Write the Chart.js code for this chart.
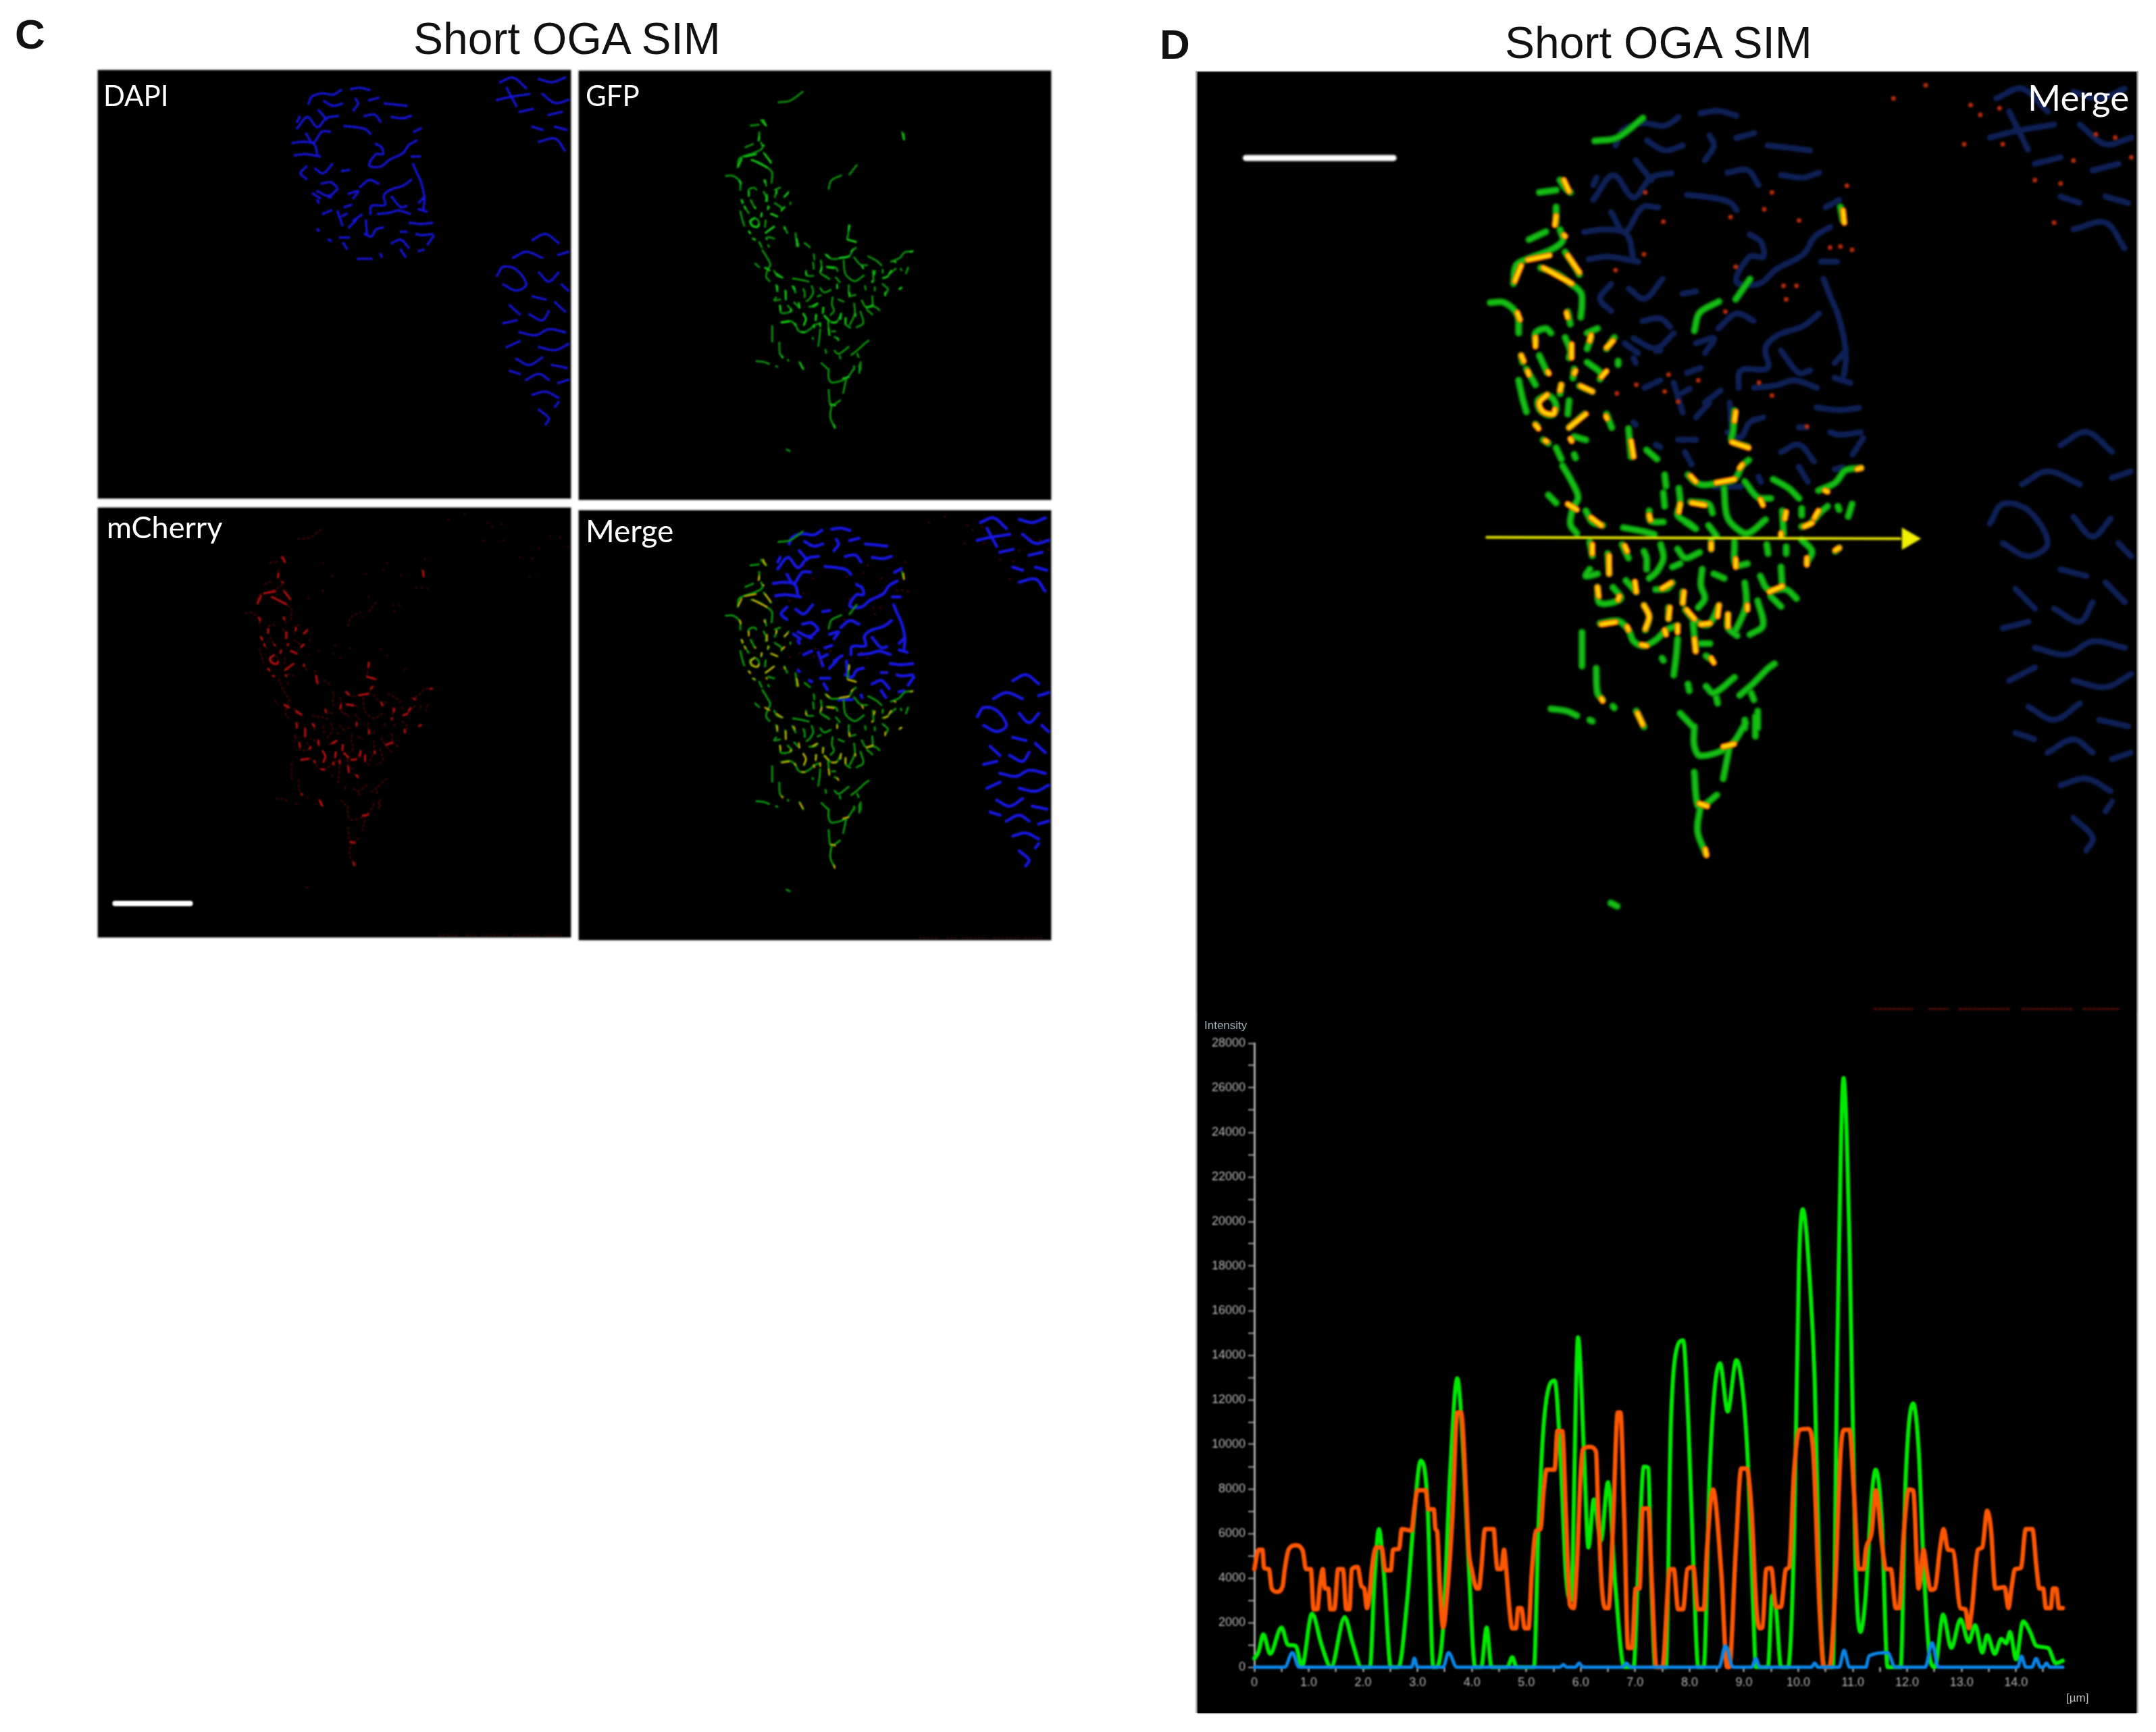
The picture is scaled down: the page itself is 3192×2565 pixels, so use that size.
<!DOCTYPE html>
<html><head><meta charset="utf-8">
<script src="https://cdn.jsdelivr.net/npm/chart.js@4"></script>
<style>
html,body{margin:0;padding:0;background:#fff;width:3192px;height:2565px;overflow:hidden}
canvas{position:absolute;background:#000;filter:blur(1px);box-shadow:0 0 2px 1px #999}
.t{position:absolute;white-space:nowrap;line-height:1;font-family:"Liberation Sans",Arial,sans-serif;color:#111}
.l{position:absolute;white-space:nowrap;line-height:1;font-family:Lato,"Open Sans",sans-serif;color:#fff;filter:blur(.6px);z-index:3}
</style></head><body>
<div style="position:absolute;left:1770px;top:105px;width:1396px;height:2432px;background:#b0b0b0"></div>
<div style="position:absolute;left:1773px;top:107px;width:1390px;height:2430px;background:#000"></div>
<div class="t" style="left:22px;top:20px;font-size:62px;font-weight:bold">C</div>
<div class="t" style="left:1717px;top:35px;font-size:62px;font-weight:bold">D</div>
<div class="t" style="left:612px;top:24px;font-size:66px">Short OGA SIM</div>
<div class="t" style="left:2228px;top:30px;font-size:66px">Short OGA SIM</div>
<div class="l" style="left:153px;top:120px;font-size:42px">DAPI</div>
<div class="l" style="left:867px;top:120px;font-size:42px">GFP</div>
<div class="l" style="left:158px;top:758px;font-size:45px">mCherry</div>
<div class="l" style="left:867px;top:763px;font-size:46px">Merge</div>
<div class="l" style="left:3002px;top:117px;font-size:53px">Merge</div>
<div class="t" style="left:1783px;top:1510px;font-size:17px;color:#9fb0b8;z-index:3;filter:blur(.6px)">Intensity</div>
<div class="t" style="left:3059px;top:2506px;font-size:17px;color:#bbb;z-index:3;filter:blur(.6px)">[µm]</div>
<script>
// ---------- intensity profile (panel D, lower part) ----------
const yTickStep = 1000, yTickMax = 28000, xTickStep = 0.5, xTickLast = 14.5;
const greenX = [0,0.08,0.165,0.29,0.5,0.62,0.76,0.875,1.06,1.24,1.41,1.66,1.81,1.97,2.125,2.21,2.29,2.38,2.51,2.65,2.81,2.92,3.06,3.18,3.29,3.35,3.47,3.6,3.73,3.86,3.94,4.06,4.17,4.27,4.36,4.65,4.74,4.82,5.14,5.22,5.33,5.52,5.62,5.73,5.82,5.95,6.06,6.14,6.24,6.37,6.5,6.63,6.8,6.97,7.06,7.16,7.24,7.3,7.37,7.565,7.655,7.74,7.88,7.98,8.07,8.16,8.26,8.37,8.46,8.56,8.7,8.86,9.0,9.08,9.17,9.22,9.44,9.52,9.59,9.68,9.81,9.92,10.01,10.08,10.22,10.3,10.39,10.48,10.63,10.72,10.83,10.94,11.05,11.14,11.23,11.35,11.42,11.53,11.64,11.88,11.97,12.11,12.21,12.3,12.42,12.51,12.66,12.81,12.98,13.13,13.25,13.38,13.47,13.61,13.73,13.82,13.89,14.0,14.13,14.26,14.37,14.59,14.73,14.86];
const greenY = [390,700,1480,600,1780,1000,960,40,2400,960,0,2240,1050,0,0,4000,6200,4250,0,0,3000,6300,9270,7500,0,0,1780,8750,12960,8750,4650,0,0,1780,0,0,450,0,0,6100,11200,12860,9800,4040,3000,14800,9580,5370,7530,5680,8300,3840,0,0,4650,9000,8960,3630,0,0,10800,14000,14670,10800,4650,0,0,8760,12450,13640,11470,13780,11840,8760,2600,0,0,3220,2600,0,0,5680,18000,20550,16960,12860,3630,0,0,14900,26440,19000,4650,1580,3000,7730,8860,6700,0,0,8350,11840,9780,4650,350,0,2360,860,2150,1130,1890,650,1440,600,1270,1070,1580,350,2050,1580,960,860,180,290];
const orangeX = [0,0.08,0.15,0.18,0.27,0.32,0.42,0.52,0.56,0.63,0.76,0.89,0.95,1.04,1.09,1.16,1.2,1.26,1.3,1.36,1.4,1.47,1.54,1.63,1.69,1.75,1.79,1.9,1.97,2.02,2.07,2.13,2.16,2.24,2.34,2.41,2.51,2.55,2.66,2.71,2.89,2.94,3.0,3.15,3.2,3.3,3.33,3.36,3.41,3.47,3.55,3.64,3.73,3.8,3.89,3.94,4.0,4.09,4.13,4.17,4.24,4.4,4.43,4.47,4.54,4.59,4.63,4.69,4.74,4.81,4.85,4.91,4.97,5.04,5.1,5.18,5.26,5.32,5.37,5.52,5.57,5.66,5.73,5.8,5.87,5.93,6.0,6.04,6.16,6.28,6.32,6.39,6.45,6.51,6.59,6.68,6.73,6.8,6.87,6.94,7.01,7.08,7.14,7.24,7.31,7.39,7.5,7.64,7.71,7.79,7.88,7.96,8.07,8.15,8.26,8.32,8.43,8.58,8.69,8.73,8.85,8.95,9.05,9.14,9.23,9.29,9.34,9.41,9.5,9.59,9.68,9.77,9.83,9.92,10.02,10.18,10.27,10.39,10.47,10.57,10.66,10.78,10.84,10.94,11.02,11.11,11.2,11.24,11.35,11.42,11.55,11.61,11.7,11.79,11.85,11.94,12.03,12.11,12.21,12.3,12.36,12.43,12.51,12.6,12.67,12.75,12.84,12.98,13.07,13.13,13.19,13.3,13.38,13.47,13.54,13.62,13.79,13.86,13.92,13.98,14.09,14.18,14.3,14.38,14.43,14.5,14.55,14.64,14.68,14.74,14.79,14.86];
const orangeY = [4400,5270,5270,4450,4400,3530,3380,3630,4400,5270,5470,5230,4400,4400,2600,2600,3530,4400,3530,3530,2600,2600,4400,4400,2600,2600,4400,4500,3630,3530,2650,3530,4400,5370,5370,4350,4350,5270,5310,6200,6130,7080,7940,7940,7080,7080,6200,6100,3630,1780,3430,6700,11430,11430,7940,5270,4350,3530,3530,4350,6200,6200,5310,4400,4400,5270,4400,2600,1740,1740,2650,2650,1740,1740,4250,6130,6200,7940,8860,8860,10600,10600,6700,2800,2650,4650,8760,9780,9890,9680,7120,3530,2650,2650,6200,11430,11430,6700,860,860,3530,3530,7120,7120,3630,0,0,4400,4400,2600,2600,4400,4490,2600,2600,5270,7980,4350,0,0,5270,8920,8920,7020,2600,1740,1780,4400,4450,2700,2700,4400,4490,8760,10650,10700,9780,2600,0,0,2600,9780,10650,10650,7940,4400,4400,5270,6100,7940,5270,4400,4400,2650,2650,6100,7980,7940,3530,5270,4350,3470,3530,5270,6200,5270,5230,2650,2600,1740,2600,5270,5370,7020,6200,3530,3590,2650,3590,4400,4450,6200,6200,4400,3530,3530,2650,2650,3530,3530,2650,2650];
const blueX = [0,0.56,0.7,0.82,2.89,2.94,3.0,3.47,3.57,3.72,5.62,5.68,5.74,5.9,5.97,6.04,6.77,6.84,6.91,8.54,8.66,8.8,9.14,9.22,9.29,10.24,10.3,10.36,10.75,10.84,10.94,11.24,11.3,11.64,11.78,12.33,12.46,12.57,14.03,14.1,14.18,14.29,14.37,14.45,14.5,14.56,14.62,14.86];
const blueY = [0,0,650,0,0,400,0,0,650,0,0,120,0,0,180,0,0,180,0,0,960,0,0,390,0,0,180,0,0,760,0,0,510,650,0,0,1100,0,0,490,0,0,390,0,0,180,0,0];

// ---------- microscopy marks ----------
const farFilaments = [[695,215,730,210,770,180],[850,1110,850,1140,860,1155,905,1140,930,1105],[945,1095,945,1125],[905,1140,895,1190],[850,1180,855,1230,865,1230,885,1215],[860,1230,855,1270,868,1305],[720,1380,730,1385]];
const farHot = [[895,1141,912,1137],[858,1228,870,1232],[867,1298,869,1307]];
const lowerFilaments = [[375,30,410,100,435,170,415,220,405,290,430,330],[320,160,350,195],[465,230,490,280,530,295],[610,305,680,320,730,335],[770,70,775,120],[765,150,770,210],[825,130,830,200,820,250,870,290,890,310],[860,70,885,100,920,115,980,105,1040,90,1070,30,1095,5],[870,190,940,200,955,240],[1000,130,1010,250,1040,300,1090,330,1160,270],[1080,100,1130,170,1180,175],[1190,90,1250,130,1290,175],[1365,140,1430,105,1470,50,1530,40],[1225,230,1230,330],[1300,300,1330,290,1370,240,1400,210],[1300,220,1300,250],[1495,200,1480,255],[1440,210,1445,225],[940,295,970,340],[710,230,715,275,765,280],[850,280,890,310],[480,370,490,430],[605,380,630,440],[550,420,555,510],[690,410,700,440,700,490],[755,380,765,440,740,500,710,530],[820,400,850,440,905,415],[800,480,830,465],[950,360,950,400],[1040,370,1045,470,1090,465],[1165,380,1170,420],[1240,390,1240,420],[1300,360,1340,410,1320,460],[1430,410,1445,395],[480,490,465,520,510,510],[510,570,520,640,600,620,570,570],[620,540,660,590],[735,580,780,575,800,550],[915,490,910,560,925,620,900,660],[960,510,1000,530],[1080,550,1085,600,1085,650,1070,700,1045,760],[1140,520,1170,580,1240,580,1280,620],[1220,480,1225,570],[1180,610,1220,655],[1130,630,1150,740,1100,780],[840,590,840,640],[690,650,710,700,695,760],[785,660,785,710],[850,670,890,720,940,735,980,650],[1015,690,1015,750,1050,785],[520,730,590,720,630,760,650,810,690,830,740,800,775,760,820,740],[880,730,890,850],[910,820,945,820],[930,875,950,890],[820,800,815,870,805,960],[450,770,450,850,450,920],[505,930,510,1040,530,1070],[570,1098,575,1106],[330,1110,390,1120,430,1140],[480,1160,490,1165],[660,1120,690,1190],[760,885,765,895],[860,1000,865,1030],[930,1010,960,1040,1040,970],[970,1060,975,1085],[1060,1050,1110,1000,1170,930,1195,910],[1105,1040,1115,1070],[1080,1160,1080,1195],[1130,1120,1130,1195],[830,1130,880,1190]];
const lowerHot = [[395,200,430,225],[485,260,525,295],[710,250,715,270],[875,195,925,205],[830,200,825,235],[870,75,890,100],[970,105,1040,90],[1060,40,1070,25],[1140,180,1150,205],[1240,235,1235,265],[1365,230,1350,260],[1310,300,1340,285],[1390,140,1400,145],[1515,45,1530,40],[490,380,490,420],[555,430,555,510],[615,385,625,410],[950,375,950,400],[1045,445,1045,480],[1320,440,1320,470],[1430,405,1445,395],[510,570,515,610],[655,545,660,590],[760,575,795,550],[845,590,840,640],[690,650,710,700,695,755],[790,660,785,710],[855,670,885,710],[910,735,945,730],[1015,690,1015,745],[820,740,820,770],[885,800,890,855],[1220,330,1220,340],[770,760,775,780],[680,825,700,830],[625,745,630,760],[525,735,580,725],[950,885,960,905],[665,1130,685,1180],[525,1065,530,1075],[595,610,590,625],[980,650,975,700],[1090,650,1090,670],[1175,590,1225,565]];
const upperFilaments = [[365,110,385,145,405,165],[285,165,350,155],[350,230,350,300],[245,375,310,340],[365,330,375,380,330,420,240,460,195,490,185,570],[385,430,420,490,440,530],[290,500,350,525,400,565,445,610,450,660,445,720],[95,655,150,655,200,710,205,790],[395,695,405,750],[270,830,270,790,310,770,330,790],[385,810,405,870,400,900],[485,810,470,860],[510,770,470,790],[545,860,575,810],[590,915,590,930],[215,890,220,920],[285,890,315,965],[235,950,270,1020],[205,1000,220,1080,235,1140],[420,950,415,990],[470,920,525,970,520,995],[370,1020,365,1060],[440,1025,490,1050],[315,1065,280,1090,290,1135,330,1155,350,1130,340,1085,315,1065],[400,1090,395,1150],[270,1195,278,1205],[400,1210,460,1150],[545,1150,565,1210],[300,1265,320,1280],[350,1300,370,1350],[420,1250,465,1265],[420,1330,425,1345],[630,1215,640,1340],[700,1310,740,1350],[1040,1135,1035,1225,1030,1270,1090,1295],[1450,230,1460,290],[1045,640,1100,550],[885,780,905,700,980,650]];
const upperHot = [[380,110,400,160],[350,270,345,310],[380,355,385,360],[190,560,215,490],[240,465,325,445],[395,445,440,520],[300,500,410,570],[200,700,210,730],[390,700,395,720],[270,810,270,850],[410,840,410,900],[485,800,480,825],[545,855,570,825],[215,890,225,915],[240,960,245,975],[318,962,322,970],[425,958,420,970],[525,985,545,960],[370,1020,365,1045],[445,1025,490,1050],[315,1065,285,1100,300,1140,340,1150,345,1130],[270,1198,282,1215],[400,1210,465,1150],[543,1160,547,1170],[308,1268,314,1272],[640,1270,650,1340],[1045,1140,1040,1180],[1030,1275,1095,1300],[1460,245,1465,300],[405,1260,410,1270]];
const mainNucleus = [[110,100,125,70,170,55,220,60,255,40],[180,90,220,110,260,100],[300,35,340,30,380,40],[320,80,330,100,310,130],[380,85,420,75],[450,100,500,105,545,110],[60,210,105,160,150,205,190,165,240,155],[155,130,190,170],[270,200,320,205,365,215,385,235],[100,235,130,275,170,225,205,225],[360,155,405,150,430,180],[480,160,530,165,565,155],[40,275,90,270,135,280,150,330],[50,330,95,325,160,335],[100,380,75,410,100,435],[140,390,175,410,215,370],[260,400,290,395],[170,455,210,450,235,470],[150,490,200,510,240,480],[580,225,610,210],[410,280,435,295,440,325,410,325,380,375,430,380,470,350,530,320,555,285,590,265],[570,335,605,335],[575,370,590,405,610,450,625,520,620,570],[565,440,530,465,470,485,445,510,450,550,390,555,385,590],[340,470,380,440,420,455],[290,500,330,490,310,520],[270,560,300,550],[175,590,210,575],[260,600,280,590],[310,620,345,595],[420,590,470,585,510,575,560,590],[480,515,520,560,545,555],[600,570,635,580],[560,630,610,635,660,630],[520,670,545,670],[590,680,610,685,660,680],[250,695,290,695],[265,720,280,745],[360,680,390,690,410,660,440,650],[480,720,520,705,555,740],[520,750,540,780],[600,755,620,750],[330,790,390,790],[430,770,435,780],[290,650,320,620],[365,620,370,680],[200,705,210,710],[640,725,665,690],[620,520,600,540],[200,515,210,515],[150,530,155,540],[150,660,155,665],[60,180,70,160],[240,580,260,640],[130,500,160,520]];
const rightCell = [[1420,680,1460,660,1500,690],[1360,740,1400,720,1450,740],[1500,730,1530,720],[1310,800,1330,770,1370,780,1400,830,1370,850,1330,830],[1440,790,1470,820,1500,790],[1510,830,1530,850],[1420,870,1460,880],[1350,900,1380,930],[1330,960,1370,950],[1410,930,1450,950,1470,920],[1490,890,1520,920],[1380,990,1430,1000,1470,980,1520,990],[1340,1040,1380,1020],[1440,1040,1490,1050,1530,1030],[1370,1080,1410,1100,1450,1075],[1480,1100,1525,1110],[1400,1150,1440,1130,1470,1150],[1500,1160,1530,1150],[1420,1200,1460,1190,1500,1210],[1440,1250,1470,1280,1460,1300],[1490,1240,1500,1225],[1350,1120,1380,1130]];
const topRightCell = [[1320,150,1360,135,1400,170],[1440,140,1480,150,1520,135],[1310,210,1350,200,1410,190],[1450,190,1490,220,1530,210],[1380,250,1420,240],[1470,260,1510,250],[1420,300,1450,310],[1490,300,1525,310],[1440,350,1490,340,1520,380],[1340,170,1370,230]];
const upperSpeckX = [695,765,1185,1475,1410,1450,1495,580,660,585,770,822,1135,1185,1320,1005,1025,1155,1290,1280,1230,1240,900,785,1045,690];
const upperSpeckY = [165,295,165,135,410,405,420,510,1020,1058,1050,1095,1010,1068,1205,695,275,240,290,580,580,640,1000,975,495,440];
const cornerSpeckX = [1280,1295,1325,1505,1475,1270,1440,1420,1380,1330,1210,1160,1530,1410];
const cornerSpeckY = [160,175,165,210,205,220,245,280,275,220,130,150,240,340];
const edgeStrip = [[1130,1542,1190,1542],[1215,1542,1245,1542],[1262,1542,1340,1542],[1360,1542,1440,1542],[1455,1542,1510,1542]];
const arrowLine = [[527,821,1170,823]];
const arrowHeadX = [1183], arrowHeadY = [823];
const barD = [[152,241,382,241]];
const barC = [[130,1435,362,1435]];

// ---------- helpers ----------
const remap = (polys,ax,bx,ay,by) => polys.map(p=>p.map((v,i)=>i%2?ay+v*by:ax+v*bx));
const fromLower = polys => remap(polys,494.2,0.4022,701.3,0.344);
const fromUpper = polys => remap(polys,494.2,0.4022,236.9,0.344);
const filaments = [...farFilaments,...fromLower(lowerFilaments),...fromUpper(upperFilaments)];
const hot = [...farHot,...fromLower(lowerHot),...fromUpper(upperHot)];
const nuclei = [...remap(mainNucleus,651,0.6957,146.3,0.756),...rightCell,...topRightCell];
const specksX = [...upperSpeckX.map(v=>494.2+v*0.4022),...cornerSpeckX];
const specksY = [...upperSpeckY.map(v=>236.9+v*0.344),...cornerSpeckY];

const toPts = polys => { const out=[]; for(const p of polys){ for(let i=0;i<p.length;i+=2) out.push({x:p[i],y:p[i+1]}); out.push({x:p[p.length-2],y:null}); } return out; };
const zip = (xs,ys) => xs.map((x,i)=>({x,y:ys[i]}));
const lineSet = (polys,color,w,dash,r) => ({data:toPts(polys),showLine:true,spanGaps:false,borderColor:color,backgroundColor:color,borderWidth:w,borderDash:dash||[],pointRadius:r||0,pointBorderWidth:0,tension:0.35,borderCapStyle:'round',borderJoinStyle:'round'});
const dotSet = (xs,ys,color,r) => ({data:zip(xs,ys),showLine:false,backgroundColor:color,borderColor:color,pointRadius:r,pointBorderWidth:0});
function mkCanvas(l,t,w,h,css){ const c=document.createElement('canvas'); c.width=w;c.height=h; c.style.cssText=`left:${l}px;top:${t}px;width:${w}px;height:${h}px;${css||''}`; document.body.appendChild(c); return c; }
// Chart.js paints the first dataset last, so layers listed bottom-to-top are reversed here.
function panel(l,t,w,h,layers,css){
  new Chart(mkCanvas(l,t,w,h,css),{type:'scatter',data:{datasets:layers.slice().reverse()},options:{responsive:false,animation:false,devicePixelRatio:1,layout:{padding:0,autoPadding:false},
    plugins:{legend:{display:false},tooltip:{enabled:false}},
    scales:{x:{display:false,min:77,max:1538},y:{display:false,min:110,max:1548,reverse:true}}}});
}
Chart.defaults.font.family='"Liberation Sans",Arial,sans-serif';

// ---------- panel C ----------
panel(145,104,700,634,[lineSet(nuclei,'#1414d8',3.5,[3,3],1.8)]);
panel(857,105,699,635,[lineSet(filaments,'#0c8a0c',3,[5,2]),lineSet(hot,'#14b814',3)]);
panel(145,752,700,636,[lineSet(filaments,'#4a0606',2,[3,4]),lineSet(hot,'#b80e0e',3),dotSet(specksX,specksY,'#560808',1.2),lineSet(edgeStrip,'#4a0a0a',1.5,[3,3]),lineSet(barC,'#ffffff',8)]);
panel(857,756,699,636,[lineSet(nuclei,'#1616e0',4.5,[4,2],2.2),dotSet(specksX,specksY,'#6a0a0a',1.2),lineSet(filaments,'#0c900c',3,[5,2]),lineSet(hot,'#c8a800',2.5),lineSet(edgeStrip,'#4a0a0a',1.5,[3,3])]);

// ---------- panel D, image ----------
panel(1773,107,1390,1393,[
  lineSet(nuclei,'#0d1f54',9,[12,5],0),
  dotSet(specksX,specksY,'#b82a08',3.5),
  lineSet(filaments,'#0a8c0a',11),
  lineSet(filaments,'#16c016',5.5),
  lineSet(hot,'#ff7a00',9.5),
  lineSet(hot,'#ffdf00',4.5),
  lineSet(edgeStrip,'#6a1208',2.5,[4,3]),
  Object.assign(lineSet(barD,'#ffffff',9),{tension:0}),
  Object.assign(lineSet(arrowLine,'#e6e600',4),{tension:0}),
  {data:zip(arrowHeadX,arrowHeadY),showLine:false,pointStyle:'triangle',rotation:90,pointRadius:19,backgroundColor:'#f0f000',borderColor:'#f0f000',pointBorderWidth:0}
],'box-shadow:none;filter:blur(1.8px)');

// ---------- panel D, intensity profile ----------
const series=(xs,ys,color,w)=>({data:zip(xs,ys),showLine:true,clip:false,borderColor:color,backgroundColor:color,borderWidth:w,pointRadius:0,cubicInterpolationMode:'monotone',borderJoinStyle:'round',borderCapStyle:'round'});
new Chart(mkCanvas(1773,1500,1390,1037,'box-shadow:none;filter:blur(1.2px)'),{type:'scatter',data:{datasets:[
  series(blueX,blueY,'#0a86ea',5),series(orangeX,orangeY,'#ff5600',6.5),series(greenX,greenY,'#00ea00',6)
]},options:{responsive:false,animation:false,devicePixelRatio:1,layout:{padding:{top:45,left:0,right:0,bottom:0},autoPadding:false},
  plugins:{legend:{display:false},tooltip:{enabled:false}},
  scales:{
    x:{type:'linear',min:0,max:1306/80.55,
      afterFit:s=>{s.height=68},
      afterBuildTicks:s=>{s.ticks=s.ticks.filter(t=>t.value<=xTickLast)},
      border:{display:false},
      grid:{drawOnChartArea:false,drawTicks:true,tickLength:7,tickColor:'#aaa',tickWidth:2.5},
      ticks:{stepSize:xTickStep,autoSkip:false,maxRotation:0,padding:5,color:'#b8b8b8',font:{size:18},
        callback:v=>v===0?'0':(Number.isInteger(v)?v.toFixed(1):'')}},
    y:{type:'linear',min:0,max:yTickMax,
      afterFit:s=>{s.width=84},
      border:{display:true,color:'#a8a8a8',width:3},
      grid:{drawOnChartArea:false,drawTicks:true,tickLength:9,tickColor:'#a0a0a0',tickWidth:2},
      ticks:{stepSize:yTickStep,autoSkip:false,padding:4,color:'#b8b8b8',font:{size:18},
        callback:v=>v%2000===0?String(v):''}}
  }}});
</script>
</body></html>
